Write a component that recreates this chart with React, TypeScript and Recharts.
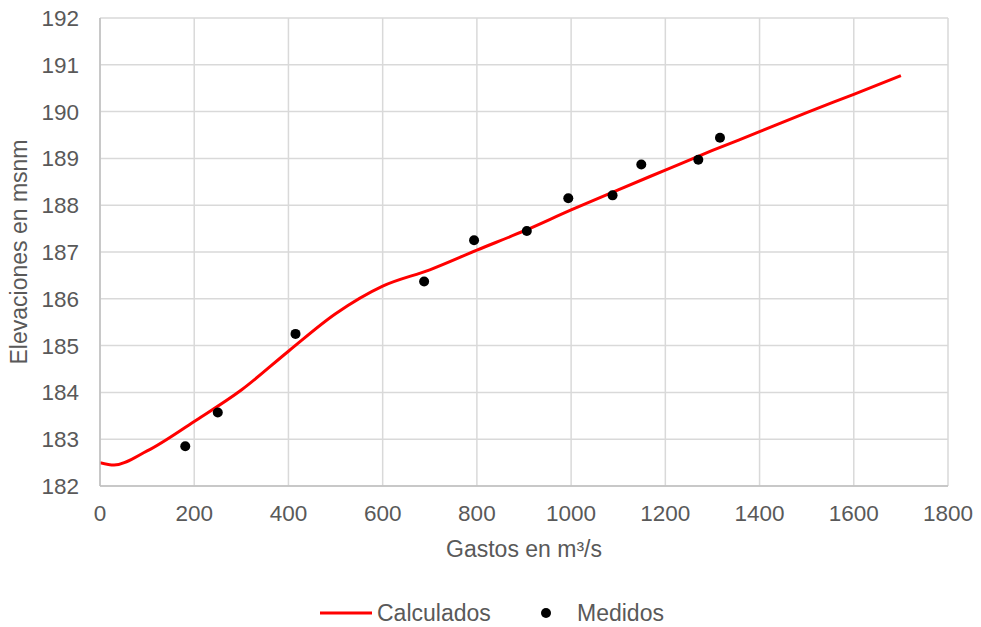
import { ComposedChart, Line, Scatter, XAxis, YAxis, CartesianGrid } from 'recharts';

// Calculated rating curve (Gastos m³/s vs elevación msnm)
const calcQ = [0, 30, 100, 200, 300, 400, 500, 600, 700, 800, 900, 1000, 1100, 1200, 1300, 1400, 1500, 1600, 1700];
const calcElev = [182.5, 182.45, 182.75, 183.38, 184.05, 184.88, 185.68, 186.27, 186.62, 187.04, 187.45, 187.9, 188.33, 188.75, 189.17, 189.57, 189.98, 190.37, 190.77];

// Measured points
const medQ = [181, 250, 415, 688, 794, 906, 994, 1088, 1149, 1270, 1316];
const medElev = [182.85, 183.57, 185.25, 186.37, 187.25, 187.45, 188.15, 188.21, 188.87, 188.97, 189.44];

const xTicks = [0, 200, 400, 600, 800, 1000, 1200, 1400, 1600, 1800];
const yTicks = [182, 183, 184, 185, 186, 187, 188, 189, 190, 191, 192];

const calcData = calcQ.map((q, i) => ({ x: q, y: calcElev[i] }));
const medData = medQ.map((q, i) => ({ x: q, y: medElev[i] }));

const FONT = '"Liberation Sans", Arial, sans-serif';
const TEXT = '#595959';

export default function App() {
  return (
    <div style={{ position: 'absolute', left: 0, top: 0, width: 981, height: 627, background: '#fff', fontFamily: FONT }}>
      <ComposedChart width={981} height={627} margin={{ top: 18, right: 33, bottom: 61, left: 0 }}>
        <CartesianGrid stroke="#d9d9d9" strokeWidth={1.5} />
        <XAxis
          type="number"
          dataKey="x"
          domain={[0, 1800]}
          ticks={xTicks}
          height={80}
          tickLine={false}
          tickSize={0}
          tickMargin={19}
          stroke="#bfbfbf"
          strokeWidth={1.5}
          tick={{ fill: TEXT, fontSize: 22.5, fontFamily: FONT }}
          label={{ value: 'Gastos en m³/s', position: 'insideBottom', offset: 9, fill: TEXT, fontSize: 23, fontFamily: FONT }}
          allowDataOverflow
        />
        <YAxis
          type="number"
          dataKey="y"
          domain={[182, 192]}
          ticks={yTicks}
          width={100}
          tickLine={false}
          tickSize={0}
          tickMargin={21}
          stroke="#bfbfbf"
          strokeWidth={1.5}
          tick={{ fill: TEXT, fontSize: 22.5, fontFamily: FONT }}
          label={{ value: 'Elevaciones en msnm', angle: -90, position: 'insideLeft', offset: 19, fill: TEXT, fontSize: 23, fontFamily: FONT, style: { textAnchor: 'middle' } }}
          allowDataOverflow
        />
        <Line
          data={calcData}
          dataKey="y"
          type="monotone"
          stroke="#ff0000"
          strokeWidth={3}
          dot={false}
          activeDot={false}
          isAnimationActive={false}
        />
        <Scatter
          data={medData}
          dataKey="y"
          fill="#000"
          shape={(p: any) => <circle cx={p.cx} cy={p.cy} r={5} fill="#000" />}
          isAnimationActive={false}
        />
      </ComposedChart>
      <div style={{ position: 'absolute', left: 0, top: 598, width: 981, height: 30 }}>
        <svg width={981} height={30} style={{ position: 'absolute', left: 0, top: 0 }}>
          <line x1={320} y1={15} x2={372} y2={15} stroke="#ff0000" strokeWidth={3} />
          <text x={377} y={23} fill={TEXT} fontSize={23} fontFamily={FONT}>Calculados</text>
          <circle cx={546} cy={15} r={5} fill="#000" />
          <text x={577} y={23} fill={TEXT} fontSize={23} fontFamily={FONT}>Medidos</text>
        </svg>
      </div>
    </div>
  );
}
